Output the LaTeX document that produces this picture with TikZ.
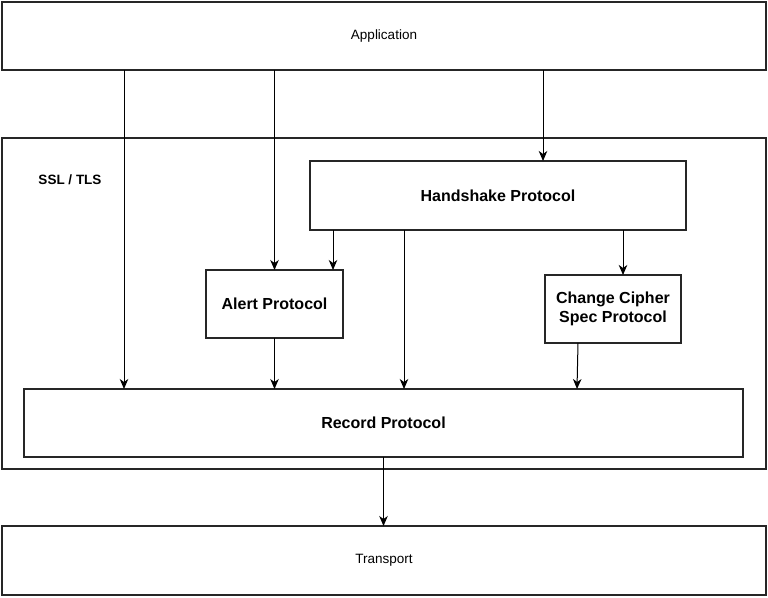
\documentclass[tikz,border=0pt]{standalone}
\usepackage{fontspec}
\setmainfont{Liberation Sans}
\usepackage{tikz}
\usetikzlibrary{arrows.meta,positioning,calc}
\tikzset{
  >={Stealth[length=10pt,width=8.5pt,inset=3pt]},
  layer/.style={rectangle, draw=black!85, line width=1.2pt, inner sep=0pt, outer sep=0pt,
                font=\fontsize{13.5}{16}\selectfont},
  proto/.style={rectangle, draw=black!85, line width=1.2pt, inner sep=0pt, outer sep=0pt,
                align=center, font=\fontsize{16}{19}\selectfont\bfseries},
  line/.style={draw, line width=1pt, ->}
}

\begin{document}
\begin{tikzpicture}[x=1pt,y=-1pt]
\useasboundingbox (0,0) rectangle (768,597);
% layers
\node[layer, minimum width=764pt, minimum height=68pt] (app) at (384,36) {Application};
\node[layer, minimum width=764pt, minimum height=331pt] (ssl) at (384,303.5) {};
\node[font=\fontsize{13.5}{16}\selectfont\bfseries] (ssltls) at (70,180) {SSL / TLS};
\node[layer, minimum width=764pt, minimum height=69pt] (trans) at (384,560.5) {Transport};
% protocols
\node[proto, minimum width=376pt, minimum height=69pt] (hs) at (498,195.5) {Handshake Protocol};
\node[proto, minimum width=137pt, minimum height=68pt] (alert) at (274.5,304) {Alert Protocol};
\node[proto, minimum width=136pt, minimum height=68pt] (ccs) at (613,309) {Change Cipher\\Spec Protocol};
\node[proto, minimum width=719pt, minimum height=68pt] (rec) at (383.5,423) {Record Protocol};
% connectors
\draw[line] (app.south -| 124,0) -- (rec.north -| 124,0);
\draw[line] (app.south -| alert.north) -- (alert.north);
\draw[line] (app.south -| 543,0) -- (hs.north -| 543,0);
\draw[line] (hs.south -| 333,0) -- (alert.north -| 333,0);
\draw[line] (hs.south -| 404,0) -- (rec.north -| 404,0);
\draw[line] (hs.south -| 623,0) -- (ccs.north -| 623,0);
\draw[line] (alert.south) -- (alert.south |- rec.north);
\draw[line] (ccs.south -| 578,0) -- (rec.north -| 577,0);
\draw[line] (rec.south) -- (trans.north -| rec.south);
\end{tikzpicture}
\end{document}
